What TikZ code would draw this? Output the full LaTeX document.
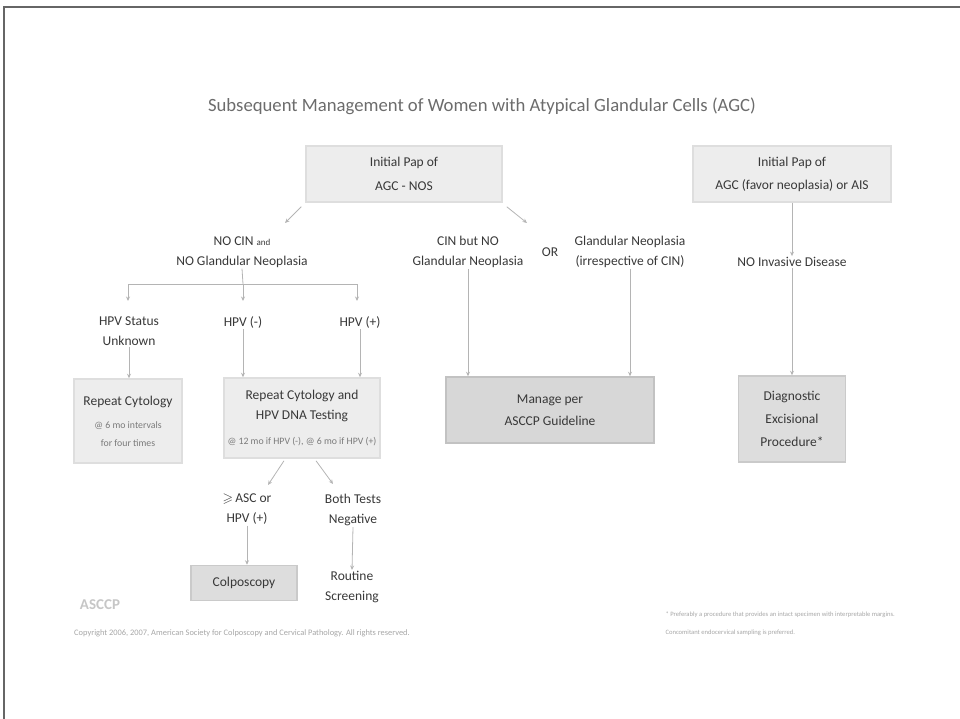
\documentclass[tikz,border=0pt]{standalone}
\usepackage{fontspec}
\setmainfont{Carlito}
\usepackage{amssymb}
\usetikzlibrary{arrows.meta}
\definecolor{txtgray}{HTML}{383838}
\definecolor{lightgray2}{HTML}{7A7A7A}
\definecolor{arrgray}{HTML}{B4B4B4}
\definecolor{boxfill}{HTML}{EDEDED}
\definecolor{boxline}{HTML}{DEDEDE}
\definecolor{darkfill}{HTML}{D7D7D7}
\definecolor{darkline}{HTML}{C2C2C2}
\definecolor{midfill}{HTML}{DDDDDD}
\definecolor{midline}{HTML}{CACACA}
\newcommand{\subtxt}[1]{{\fontsize{9.8}{11}\selectfont\color{lightgray2}#1}}
\begin{document}
\begin{tikzpicture}[x=1pt,y=-1pt,
	lbl/.style={text=txtgray, align=center, font=\fontsize{13.5}{20}\selectfont, inner sep=1pt},
	pbox/.style={draw=boxline, fill=boxfill, line width=1.5pt, text=txtgray, align=center, font=\fontsize{13.5}{23}\selectfont},
	dbox/.style={pbox, draw=darkline, fill=darkfill},
	mbox/.style={pbox, draw=midline, fill=midfill},
	arr/.style={draw=arrgray, line width=0.8pt, -{Stealth[length=4.5pt,width=4pt]}},
	ln/.style={draw=arrgray, line width=0.8pt}]
	\useasboundingbox (0,0) rectangle (960,719);
	\draw[gray!80!black, line width=1.2pt] (4,719) -- (4,7) -- (960,7);

	\node[text=gray!85!black, font=\fontsize{18.7}{22}\selectfont] (title) at (482,106) {Subsequent Management of Women with Atypical Glandular Cells (AGC)};

	% left branch: AGC - NOS
	\node[pbox, minimum width=196pt, minimum height=56pt] (P1) at (404,174) {Initial Pap of\\[1pt]AGC - NOS};
		\node[lbl] (N) at (242,252) {NO CIN {\fontsize{9}{10}\selectfont and}\\NO Glandular Neoplasia};
		\node[lbl] (C) at (468,252) {CIN but NO\\Glandular Neoplasia};
		\node[lbl] (OR) at (550,252) {OR};
		\node[lbl] (G) at (630,252) {Glandular Neoplasia\\(irrespective of CIN)};
	\draw[arr] (P1.south west) ++(-4,4) coordinate (p1a) -- (285,223) coordinate (p1b);
	\draw[arr] (P1.south east) ++(4,4) coordinate (p1c) -- (527,223) coordinate (p1d);

		\coordinate (bar) at (243,284);
		\coordinate (barL) at (128,284);
		\coordinate (barR) at (357,284);
		\node[lbl] (U) at (129,331) {HPV Status\\Unknown};
		\node[lbl] (Hn) at (243,322) {HPV (-)};
		\node[lbl] (Hp) at (360,322) {HPV (+)};
	\draw[ln] (N.south) -- (bar);
	\draw[ln] (barL) -- (barR);
	\draw[arr] (barL) -- (barL |- 0,301);
	\draw[arr] (bar) -- (bar |- 0,301);
	\draw[arr] (barR) -- (barR |- 0,301);

	\node[pbox, minimum width=108pt, minimum height=84pt] (R1) at (128,421) {Repeat Cytology\\\subtxt{@ 6 mo intervals}\\[-5pt]\subtxt{for four times}};
	\node[pbox, minimum width=156pt, minimum height=80pt, inner xsep=2pt] (R2) at (302,418) {Repeat Cytology and\\[-3pt]HPV DNA Testing\\[2pt]\subtxt{@ 12 mo if HPV (-), @ 6 mo if HPV (+)}};
	\draw[arr] (U.south) -- (U.south |- R1.north);
	\draw[arr] (Hn.south) -- (Hn.south |- R2.north);
	\draw[arr] (Hp.south) -- (Hp.south |- R2.north);

		\node[lbl] (A) at (247,509) {$\geqslant$\,ASC or\\HPV (+)};
		\node[lbl] (B) at (353,510) {Both Tests\\Negative};
	\draw[arr] (R2.south) ++(-18,2) coordinate (r2a) -- (268,485);
	\draw[arr] (R2.south) ++(14,2) coordinate (r2b) -- (333,484);
	\node[mbox, minimum width=106pt, minimum height=35pt] (CO) at (244,583) {Colposcopy};
	\node[lbl] (RS) at (352,587) {Routine\\Screening};
	\draw[arr] (A.south) -- (A.south |- CO.north);
	\draw[arr] (B.south) -- (RS.north);

	\node[dbox, minimum width=208pt, minimum height=66pt] (M) at (550,410) {Manage per\\[-1pt]ASCCP Guideline};
	\draw[arr] (C.south) -- (C.south |- M.north);
	\draw[arr] (G.south) -- (G.south |- M.north);

	% right branch: AGC favor neoplasia
	\node[pbox, minimum width=198pt, minimum height=56pt] (P2) at (792,174) {Initial Pap of\\AGC (favor neoplasia) or AIS};
		\node[lbl] (I) at (792,262) {NO Invasive Disease};
	\draw[arr] (P2.south) -- (I.north);
	\node[mbox, minimum width=107pt, minimum height=86pt] (D) at (792,419) {Diagnostic\\Excisional\\Procedure*};
	\draw[arr] (I.south) -- (D.north);

	% footer
	\node[text=gray!45, font=\fontsize{15}{17}\bfseries\selectfont] (logo) at (100,605) {ASCCP};
	\node[text=gray!70, font=\fontsize{8.4}{10}\selectfont] (copy) at (242,633) {Copyright 2006, 2007, American Society for Colposcopy and Cervical Pathology. All rights reserved.};
	\node[text=gray!70, font=\fontsize{6.6}{18}\selectfont, align=left, anchor=north west] (foot) at (662,608) {* Preferably a procedure that provides an intact specimen with interpretable margins.\\Concomitant endocervical sampling is preferred.};
\end{tikzpicture}
\end{document}
